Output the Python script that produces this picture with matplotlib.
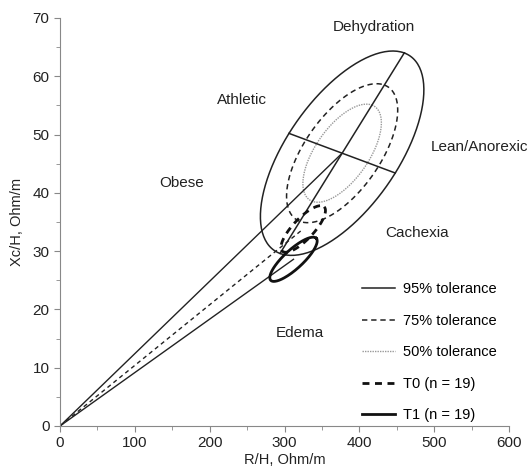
import numpy as np
import matplotlib
matplotlib.use("Agg")
import matplotlib.pyplot as plt

plt.rcParams['font.family'] = ['Liberation Sans', 'DejaVu Sans']

# ---- data (R/H, Xc/H in Ohm/m) ----
# reference population: mean vector and semi-axes of the 95% tolerance ellipse
ref_center = [377.0, 46.8]
ref_major = [83.0, 17.2]
ref_minor = [71.0, -3.4]
tol_levels = ["95% tolerance", "75% tolerance", "50% tolerance"]
tol_scale = [1.0, 0.68, 0.48]

# group mean vectors and semi-axes of their confidence ellipses
t0_center = [325.0, 33.8]
t0_major = [28.0, 3.8]
t0_minor = [10.0, -1.25]
t1_center = [312.0, 28.6]
t1_major = [30.5, 3.6]
t1_minor = [8.5, -1.2]

region_labels = ["Dehydration", "Athletic", "Lean/Anorexic", "Obese", "Cachexia", "Edema"]
region_x = [420, 243, 560, 163, 477, 320]
region_y = [68.4, 55.9, 47.9, 41.7, 33.1, 16.0]


def ellipse_xy(center, u, v, scale=1.0, n=200):
    """ellipse from two conjugate semi-axis vectors"""
    t = np.linspace(0, 2 * np.pi, n)
    c = np.asarray(center)
    u = np.asarray(u) * scale
    v = np.asarray(v) * scale
    pts = c[:, None] + u[:, None] * np.cos(t) + v[:, None] * np.sin(t)
    return pts[0], pts[1]


fig = plt.figure(figsize=(5.31, 4.73), dpi=100)
ax = fig.add_axes([0.113, 0.0994, 0.8456, 0.8626])

# tolerance ellipses
tol_styles = [dict(color='#222222', ls='-', lw=1.1),
              dict(color='#222222', ls=(0, (3.5, 2.5)), lw=1.1),
              dict(color='#999999', ls=(0, (1, 0.8)), lw=1.0)]
for lab, s, st in zip(tol_levels, tol_scale, tol_styles):
    ex, ey = ellipse_xy(ref_center, ref_major, ref_minor, s)
    ax.plot(ex, ey, label=lab, **st)

# axes of the 95% ellipse
c = np.array(ref_center)
for vec in (ref_major, ref_minor):
    vec = np.array(vec)
    ax.plot([c[0] - vec[0], c[0] + vec[0]], [c[1] - vec[1], c[1] + vec[1]],
            color='#222222', lw=1.1)

# vectors from the origin
ax.plot([0, ref_center[0]], [0, ref_center[1]], color='#222222', lw=1.0)
ax.plot([0, t0_center[0]], [0, t0_center[1]], color='#222222', lw=1.0, ls=(0, (3, 2.5)))
ax.plot([0, t1_center[0]], [0, t1_center[1]], color='#222222', lw=1.0)

# group ellipses
ex, ey = ellipse_xy(t0_center, t0_major, t0_minor)
ax.plot(ex, ey, color='#111111', lw=2.0, ls=(0, (2.5, 2)), label="T0 (n = 19)")
ex, ey = ellipse_xy(t1_center, t1_major, t1_minor)
ax.plot(ex, ey, color='#111111', lw=2.0, label="T1 (n = 19)")

# region labels
for lab, x, y in zip(region_labels, region_x, region_y):
    ax.text(x, y, lab, ha='center', va='center', fontsize=11, color='#222222')

ax.set_xlim(0, 600)
ax.set_ylim(0, 70)
ax.set_xticks(np.arange(0, 601, 100))
ax.set_xticks(np.arange(0, 601, 50), minor=True)
ax.set_yticks(np.arange(0, 71, 10))
ax.set_yticks(np.arange(0, 71, 5), minor=True)
ax.tick_params(which='both', direction='out', colors='#888888', labelcolor='#222222',
               labelsize=11)
ax.tick_params(which='major', length=4)
ax.tick_params(which='minor', length=3)
for side in ['top', 'right']:
    ax.spines[side].set_visible(False)
for side in ['left', 'bottom']:
    ax.spines[side].set_color('#888888')
ax.set_xlabel("R/H, Ohm/m", fontsize=10.5, color='#222222', labelpad=2)
ax.set_ylabel("Xc/H, Ohm/m", fontsize=10.5, color='#222222', labelpad=6)

ax.legend(loc='upper left', bbox_to_anchor=(0.672, 0.352), frameon=False, fontsize=10.5,
          borderpad=0, borderaxespad=0, handlelength=2.3, handletextpad=0.5,
          labelspacing=1.2)

fig.savefig("out.png", dpi=100)
